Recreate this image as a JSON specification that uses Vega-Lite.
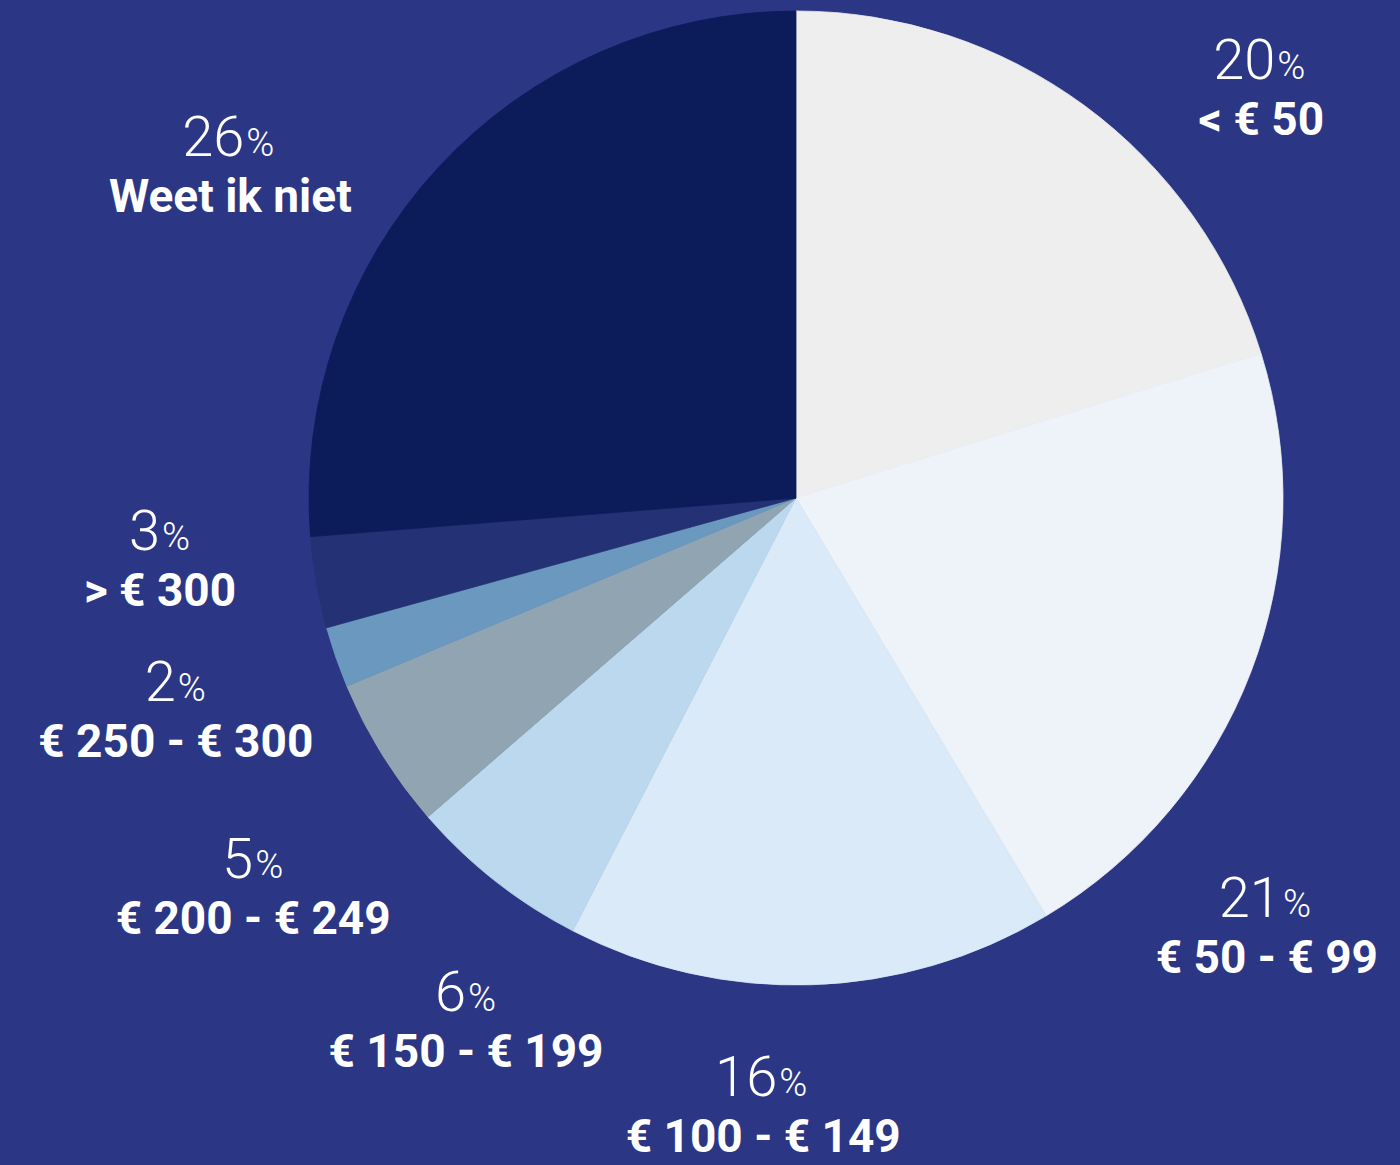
{
  "$schema": "https://vega.github.io/schema/vega-lite/v6.json",
  "autosize": "none",
  "width": 1208,
  "height": 974,
  "padding": {"left": 192, "top": 11, "right": 0, "bottom": 180},
  "background": "#2B3784",
  "config": {"view": {"stroke": null}},
  "data": {"values": [
    {"label": "< € 50", "pct": 20, "idx": 1},
    {"label": "€ 50 - € 99", "pct": 21, "idx": 2},
    {"label": "€ 100 - € 149", "pct": 16, "idx": 3},
    {"label": "€ 150 - € 199", "pct": 6, "idx": 4},
    {"label": "€ 200 - € 249", "pct": 5, "idx": 5},
    {"label": "€ 250 - € 300", "pct": 2, "idx": 6},
    {"label": "> € 300", "pct": 3, "idx": 7},
    {"label": "Weet ik niet", "pct": 26, "idx": 8}
  ]},
  "encoding": {
    "theta": {"field": "pct", "type": "quantitative", "stack": true},
    "order": {"field": "idx", "type": "quantitative"},
    "detail": {"field": "label", "type": "nominal"}
  },
  "layer": [
    {"mark": {"type": "arc", "strokeWidth": 0.8},
     "encoding": {
       "color": {"field": "label", "type": "nominal", "legend": null,
         "scale": {"domain": ["< € 50", "€ 50 - € 99", "€ 100 - € 149", "€ 150 - € 199", "€ 200 - € 249", "€ 250 - € 300", "> € 300", "Weet ik niet"],
                   "range": ["#EEEEEE", "#EEF3FA", "#DBEAF8", "#BBD8EE", "#90A4B1", "#6A98BE", "#243174", "#0C1C5B"]}},
       "stroke": {"field": "label", "type": "nominal", "legend": null,
         "scale": {"domain": ["< € 50", "€ 50 - € 99", "€ 100 - € 149", "€ 150 - € 199", "€ 200 - € 249", "€ 250 - € 300", "> € 300", "Weet ik niet"],
                   "range": ["#EEEEEE", "#EEF3FA", "#DBEAF8", "#BBD8EE", "#90A4B1", "#6A98BE", "#243174", "#0C1C5B"]}}}},

    {"mark": {"type": "text", "radius": 608, "thetaOffset": 0.237, "dx": 14, "dy": -28, "align": "right", "baseline": "alphabetic", "font": "Roboto", "fontWeight": 300, "fontSize": 56, "color": "#ffffff"},
     "encoding": {"text": {"condition": {"test": "datum.idx === 1", "field": "pct", "type": "quantitative"}, "value": ""}}},
    {"mark": {"type": "text", "radius": 608, "thetaOffset": 0.237, "dx": 16, "dy": -28, "align": "left", "baseline": "alphabetic", "font": "Roboto", "fontWeight": 300, "fontSize": 38, "color": "#ffffff"},
     "encoding": {"text": {"condition": {"test": "datum.idx === 1", "value": "%"}, "value": ""}}},
    {"mark": {"type": "text", "radius": 608, "thetaOffset": 0.237, "dy": 28, "align": "center", "baseline": "alphabetic", "font": "Roboto", "fontWeight": "bold", "fontSize": 46, "color": "#ffffff"},
     "encoding": {"text": {"condition": {"test": "datum.idx === 1", "field": "label", "type": "nominal"}, "value": ""}}},

    {"mark": {"type": "text", "radius": 649, "thetaOffset": 0.394, "dx": 14, "dy": -28, "align": "right", "baseline": "alphabetic", "font": "Roboto", "fontWeight": 300, "fontSize": 56, "color": "#ffffff"},
     "encoding": {"text": {"condition": {"test": "datum.idx === 2", "field": "pct", "type": "quantitative"}, "value": ""}}},
    {"mark": {"type": "text", "radius": 649, "thetaOffset": 0.394, "dx": 16, "dy": -28, "align": "left", "baseline": "alphabetic", "font": "Roboto", "fontWeight": 300, "fontSize": 38, "color": "#ffffff"},
     "encoding": {"text": {"condition": {"test": "datum.idx === 2", "value": "%"}, "value": ""}}},
    {"mark": {"type": "text", "radius": 649, "thetaOffset": 0.394, "dy": 28, "align": "center", "baseline": "alphabetic", "font": "Roboto", "fontWeight": "bold", "fontSize": 46, "color": "#ffffff"},
     "encoding": {"text": {"condition": {"test": "datum.idx === 2", "field": "label", "type": "nominal"}, "value": ""}}},

    {"mark": {"type": "text", "radius": 627, "thetaOffset": 0.084, "dx": 14, "dy": -28, "align": "right", "baseline": "alphabetic", "font": "Roboto", "fontWeight": 300, "fontSize": 56, "color": "#ffffff"},
     "encoding": {"text": {"condition": {"test": "datum.idx === 3", "field": "pct", "type": "quantitative"}, "value": ""}}},
    {"mark": {"type": "text", "radius": 627, "thetaOffset": 0.084, "dx": 16, "dy": -28, "align": "left", "baseline": "alphabetic", "font": "Roboto", "fontWeight": 300, "fontSize": 38, "color": "#ffffff"},
     "encoding": {"text": {"condition": {"test": "datum.idx === 3", "value": "%"}, "value": ""}}},
    {"mark": {"type": "text", "radius": 627, "thetaOffset": 0.084, "dy": 28, "align": "center", "baseline": "alphabetic", "font": "Roboto", "fontWeight": "bold", "fontSize": 46, "color": "#ffffff"},
     "encoding": {"text": {"condition": {"test": "datum.idx === 3", "field": "label", "type": "nominal"}, "value": ""}}},

    {"mark": {"type": "text", "radius": 634, "thetaOffset": -0.119, "dx": 0, "dy": -28, "align": "right", "baseline": "alphabetic", "font": "Roboto", "fontWeight": 300, "fontSize": 56, "color": "#ffffff"},
     "encoding": {"text": {"condition": {"test": "datum.idx === 4", "field": "pct", "type": "quantitative"}, "value": ""}}},
    {"mark": {"type": "text", "radius": 634, "thetaOffset": -0.119, "dx": 2, "dy": -28, "align": "left", "baseline": "alphabetic", "font": "Roboto", "fontWeight": 300, "fontSize": 38, "color": "#ffffff"},
     "encoding": {"text": {"condition": {"test": "datum.idx === 4", "value": "%"}, "value": ""}}},
    {"mark": {"type": "text", "radius": 634, "thetaOffset": -0.119, "dy": 28, "align": "center", "baseline": "alphabetic", "font": "Roboto", "fontWeight": "bold", "fontSize": 46, "color": "#ffffff"},
     "encoding": {"text": {"condition": {"test": "datum.idx === 4", "field": "label", "type": "nominal"}, "value": ""}}},

    {"mark": {"type": "text", "radius": 679, "thetaOffset": -0.089, "dx": 0, "dy": -28, "align": "right", "baseline": "alphabetic", "font": "Roboto", "fontWeight": 300, "fontSize": 56, "color": "#ffffff"},
     "encoding": {"text": {"condition": {"test": "datum.idx === 5", "field": "pct", "type": "quantitative"}, "value": ""}}},
    {"mark": {"type": "text", "radius": 679, "thetaOffset": -0.089, "dx": 2, "dy": -28, "align": "left", "baseline": "alphabetic", "font": "Roboto", "fontWeight": 300, "fontSize": 38, "color": "#ffffff"},
     "encoding": {"text": {"condition": {"test": "datum.idx === 5", "value": "%"}, "value": ""}}},
    {"mark": {"type": "text", "radius": 679, "thetaOffset": -0.089, "dy": 28, "align": "center", "baseline": "alphabetic", "font": "Roboto", "fontWeight": "bold", "fontSize": 46, "color": "#ffffff"},
     "encoding": {"text": {"condition": {"test": "datum.idx === 5", "field": "label", "type": "nominal"}, "value": ""}}},

    {"mark": {"type": "text", "radius": 662, "thetaOffset": -0.024, "dx": 0, "dy": -28, "align": "right", "baseline": "alphabetic", "font": "Roboto", "fontWeight": 300, "fontSize": 56, "color": "#ffffff"},
     "encoding": {"text": {"condition": {"test": "datum.idx === 6", "field": "pct", "type": "quantitative"}, "value": ""}}},
    {"mark": {"type": "text", "radius": 662, "thetaOffset": -0.024, "dx": 2, "dy": -28, "align": "left", "baseline": "alphabetic", "font": "Roboto", "fontWeight": 300, "fontSize": 38, "color": "#ffffff"},
     "encoding": {"text": {"condition": {"test": "datum.idx === 6", "value": "%"}, "value": ""}}},
    {"mark": {"type": "text", "radius": 662, "thetaOffset": -0.024, "dy": 28, "align": "center", "baseline": "alphabetic", "font": "Roboto", "fontWeight": "bold", "fontSize": 46, "color": "#ffffff"},
     "encoding": {"text": {"condition": {"test": "datum.idx === 6", "field": "label", "type": "nominal"}, "value": ""}}},

    {"mark": {"type": "text", "radius": 641, "thetaOffset": 0.049, "dx": 0, "dy": -28, "align": "right", "baseline": "alphabetic", "font": "Roboto", "fontWeight": 300, "fontSize": 56, "color": "#ffffff"},
     "encoding": {"text": {"condition": {"test": "datum.idx === 7", "field": "pct", "type": "quantitative"}, "value": ""}}},
    {"mark": {"type": "text", "radius": 641, "thetaOffset": 0.049, "dx": 2, "dy": -28, "align": "left", "baseline": "alphabetic", "font": "Roboto", "fontWeight": 300, "fontSize": 38, "color": "#ffffff"},
     "encoding": {"text": {"condition": {"test": "datum.idx === 7", "value": "%"}, "value": ""}}},
    {"mark": {"type": "text", "radius": 641, "thetaOffset": 0.049, "dy": 28, "align": "center", "baseline": "alphabetic", "font": "Roboto", "fontWeight": "bold", "fontSize": 46, "color": "#ffffff"},
     "encoding": {"text": {"condition": {"test": "datum.idx === 7", "field": "label", "type": "nominal"}, "value": ""}}},

    {"mark": {"type": "text", "radius": 647, "thetaOffset": -0.239, "dx": 14, "dy": -28, "align": "right", "baseline": "alphabetic", "font": "Roboto", "fontWeight": 300, "fontSize": 56, "color": "#ffffff"},
     "encoding": {"text": {"condition": {"test": "datum.idx === 8", "field": "pct", "type": "quantitative"}, "value": ""}}},
    {"mark": {"type": "text", "radius": 647, "thetaOffset": -0.239, "dx": 16, "dy": -28, "align": "left", "baseline": "alphabetic", "font": "Roboto", "fontWeight": 300, "fontSize": 38, "color": "#ffffff"},
     "encoding": {"text": {"condition": {"test": "datum.idx === 8", "value": "%"}, "value": ""}}},
    {"mark": {"type": "text", "radius": 647, "thetaOffset": -0.239, "dy": 28, "align": "center", "baseline": "alphabetic", "font": "Roboto", "fontWeight": "bold", "fontSize": 46, "color": "#ffffff"},
     "encoding": {"text": {"condition": {"test": "datum.idx === 8", "field": "label", "type": "nominal"}, "value": ""}}}
  ]
}
